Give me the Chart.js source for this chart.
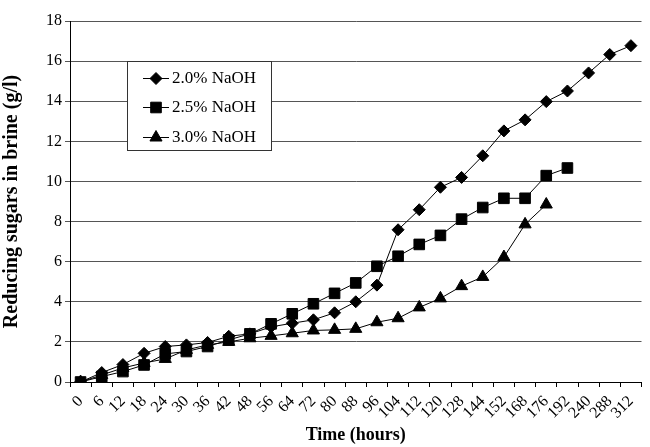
<!DOCTYPE html>
<html>
<head>
<meta charset="utf-8">
<script src="https://cdn.jsdelivr.net/npm/chart.js@4/dist/chart.umd.min.js"></script>
<style>
  html, body { margin: 0; padding: 0; background: #fff; }
  #wrap { width: 650px; height: 447px; }
</style>
</head>
<body>
<div id="wrap"><canvas id="sugar-chart" width="650" height="447"></canvas></div>
<script>
// time points (hours), spaced as categories like the original
var hours = ["0", "6", "12", "18", "24", "30", "36", "42", "48", "56", "64", "72", "80", "88",
  "96", "104", "112", "120", "128", "144", "152", "168", "176", "192", "240", "288", "312"];

var naoh20 = [0, 0.47, 0.87, 1.43, 1.77, 1.85, 1.97, 2.28, 2.4, 2.75, 2.93, 3.1, 3.45, 4.0,
  4.83, 7.59, 8.59, 9.71, 10.2, 11.28, 12.52, 13.07, 13.98, 14.51, 15.41, 16.33, 16.77];
var naoh25 = [0, 0.27, 0.52, 0.85, 1.4, 1.52, 1.77, 2.1, 2.4, 2.9, 3.4, 3.9, 4.42, 4.94,
  5.77, 6.27, 6.86, 7.31, 8.12, 8.7, 9.16, 9.16, 10.29, 10.67, null, null, null];
var naoh30 = [0, 0.35, 0.7, 0.95, 1.15, 1.6, 1.85, 2.0, 2.18, 2.3, 2.43, 2.57, 2.6, 2.65,
  2.98, 3.18, 3.72, 4.17, 4.78, 5.24, 6.23, 7.86, 8.85, null, null, null, null];

var seriesNames = ["2.0% NaOH", "2.5% NaOH", "3.0% NaOH"];
var yTicks = [0, 2, 4, 6, 8, 10, 12, 14, 16, 18];

var serif = "'Liberation Serif', 'Times New Roman', serif";

function series(label, data, style, radius) {
  return {
    label: label,
    data: data,
    borderColor: "#000",
    backgroundColor: "#000",
    borderWidth: 1,
    pointStyle: style,
    pointRadius: radius,
    pointHoverRadius: radius,
    pointBorderWidth: 1,
    tension: 0,
    spanGaps: false
  };
}

// legend box drawn inside the plot, like the Excel original
var boxLegend = {
  id: "boxLegend",
  afterDraw: function (chart) {
    var ctx = chart.ctx;
    var x0 = 127, y0 = 61, w = 144, h = 89;
    ctx.save();
    ctx.fillStyle = "#fff";
    ctx.fillRect(x0, y0, w, h);
    ctx.strokeStyle = "#333";
    ctx.lineWidth = 1;
    ctx.strokeRect(x0 + 0.5, y0 + 0.5, w, h);
    var rowY = [78, 107, 137];
    chart.data.datasets.forEach(function (ds, i) {
      var y = rowY[i];
      ctx.strokeStyle = "#000";
      ctx.beginPath();
      ctx.moveTo(143, y + 0.5);
      ctx.lineTo(169, y + 0.5);
      ctx.stroke();
      ctx.fillStyle = "#000";
      Chart.helpers.drawPoint(ctx, { pointStyle: ds.pointStyle, radius: ds.pointRadius, borderWidth: 1 }, 156, y + 0.5);
      ctx.fillStyle = "#000";
      ctx.font = "17px " + serif;
      ctx.textBaseline = "middle";
      ctx.textAlign = "left";
      ctx.fillText(ds.label, 172, y + 1);
    });
    ctx.restore();
  }
};

var config = {
  type: "line",
  data: {
    labels: hours,
    datasets: [
      series(seriesNames[0], naoh20, "rectRot", 6),
      series(seriesNames[1], naoh25, "rect", 7.5),
      series(seriesNames[2], naoh30, "triangle", 7)
    ]
  },
  options: {
    responsive: false,
    animation: false,
    layout: { padding: { top: 21, right: 5, left: 0, bottom: 0 } },
    plugins: {
      legend: { display: false },
      tooltip: { enabled: false }
    },
    scales: {
      x: {
        type: "category",
        offset: true,
        grid: {
          offset: true,
          drawOnChartArea: false,
          drawTicks: true,
          tickLength: 5,
          color: "#000"
        },
        border: { color: "#000", width: 1 },
        ticks: {
          autoSkip: false,
          minRotation: 45,
          maxRotation: 45,
          padding: 5,
          color: "#000",
          font: { size: 16, family: serif }
        },
        title: {
          display: true,
          text: "Time (hours)",
          color: "#000",
          font: { size: 18, weight: "bold", family: serif },
          padding: { top: 0, bottom: 1 }
        },
        afterFit: function (scale) { scale.height = 65; }
      },
      y: {
        min: 0,
        max: 18,
        afterBuildTicks: function (scale) {
          scale.ticks = yTicks.map(function (v) { return { value: v }; });
        },
        grid: {
          drawTicks: true,
          tickLength: 5,
          color: "#555"
        },
        border: { color: "#000", width: 1 },
        ticks: {
          padding: 3,
          color: "#000",
          font: { size: 16, family: serif }
        },
        title: {
          display: true,
          text: "Reducing sugars in brine (g/l)",
          color: "#000",
          font: { size: 20, weight: "bold", family: serif },
          padding: { top: 0, bottom: 2 }
        },
        afterFit: function (scale) { scale.width = 70; }
      }
    }
  },
  plugins: [boxLegend]
};

var ctx = document.getElementById("sugar-chart").getContext("2d");
window.sugarChart = new Chart(ctx, config);
</script>
</body>
</html>
